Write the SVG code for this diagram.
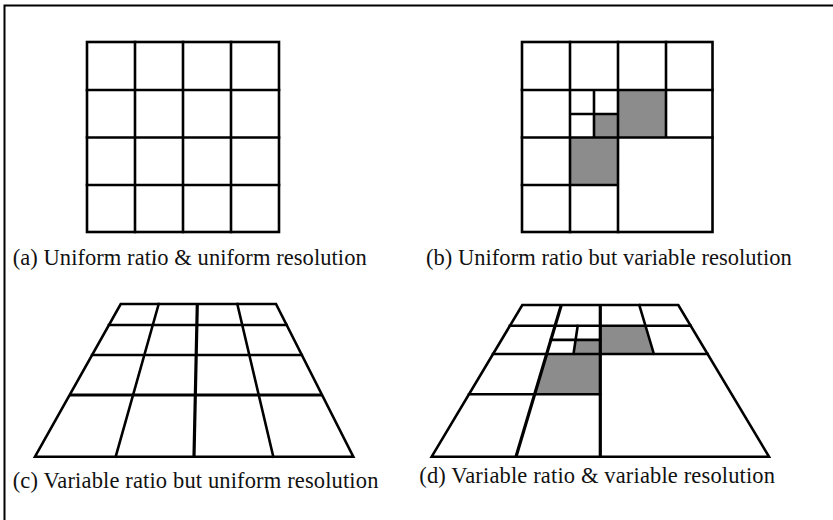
<svg xmlns="http://www.w3.org/2000/svg" width="833" height="520" viewBox="0 0 833 520">
<style>
  .ln{stroke:#000;stroke-width:2.6;fill:none;stroke-linecap:square}
  .th{stroke:#000;stroke-width:3.2;fill:none}
  .gray{fill:#8c8c8c;stroke:none}
  .cap{font-family:"Liberation Serif","Times New Roman",serif;font-size:22.5px;fill:#111}
  .frame{stroke:#000;stroke-width:2;fill:none}
</style>
<rect width="833" height="520" fill="#fff"/>
<path class="frame" d="M4.5,521 V5.5 H834"/>

<g id="panel-a">
  <rect x="87" y="42" width="192" height="190" class="ln"/>
  <path class="ln" d="M135,42V232 M183,42V232 M231,42V232 M87,90H279 M87,137.5H279 M87,185H279"/>
</g>

<g id="panel-b">
  <rect class="gray" x="594" y="114" width="24" height="23.5"/>
  <rect class="gray" x="618" y="90" width="48" height="47.5"/>
  <rect class="gray" x="570" y="137.5" width="48" height="47.5"/>
  <rect x="522" y="42" width="190.5" height="190" class="ln"/>
  <path class="ln" d="M570,42V232 M618,42V232 M666,42V137.5 M522,90H712.5 M522,137.5H712.5 M522,185H618 M594,90V137.5 M570,114H618"/>
</g>

<g id="panel-c">
  <polygon class="ln" points="120.7,304 276,304 353.3,456.7 35,456.7"/>
  <path class="ln" d="M158.7,304L115.7,456.7 M237.3,304L273.3,456.7 M108.9,325H286.6 M92.1,355H301.8"/>
  <path class="th" d="M197.3,304L194,456.7 M69.6,395H322.1"/>
</g>

<g id="panel-d">
  <polygon class="gray" points="600.3,325.7 645.4,325.7 653.9,354 600.3,354"/>
  <polygon class="gray" points="575.6,339.85 600.3,339.85 600.3,354 573.5,354"/>
  <polygon class="gray" points="546.7,354 600.3,354 600.3,394.3 534.7,394.3"/>
  <polygon class="ln" points="522.3,305 678.3,305 769,456.7 431.7,456.7"/>
  <path class="ln" d="M509.9,325.7H690.6 M493,354H707.6 M469,394.3H600.3 M639.3,305L653.9,354 M577.7,325.7L573.5,354 M550.9,339.85H600.3"/>
  <path class="th" d="M561.3,305L516,456.7 M600.3,305V456.7"/>
</g>

<g id="captions">
  <text class="cap" x="12.7" y="264.5" textLength="354" lengthAdjust="spacing">(a) Uniform ratio &amp; uniform resolution</text>
  <text class="cap" x="426" y="264.5" textLength="365.7" lengthAdjust="spacing">(b) Uniform ratio but variable resolution</text>
  <text class="cap" x="12.7" y="487.5" textLength="365.7" lengthAdjust="spacing">(c) Variable ratio but uniform resolution</text>
  <text class="cap" x="419.3" y="483.3" textLength="355.7" lengthAdjust="spacing">(d) Variable ratio &amp; variable resolution</text>
</g>
</svg>
